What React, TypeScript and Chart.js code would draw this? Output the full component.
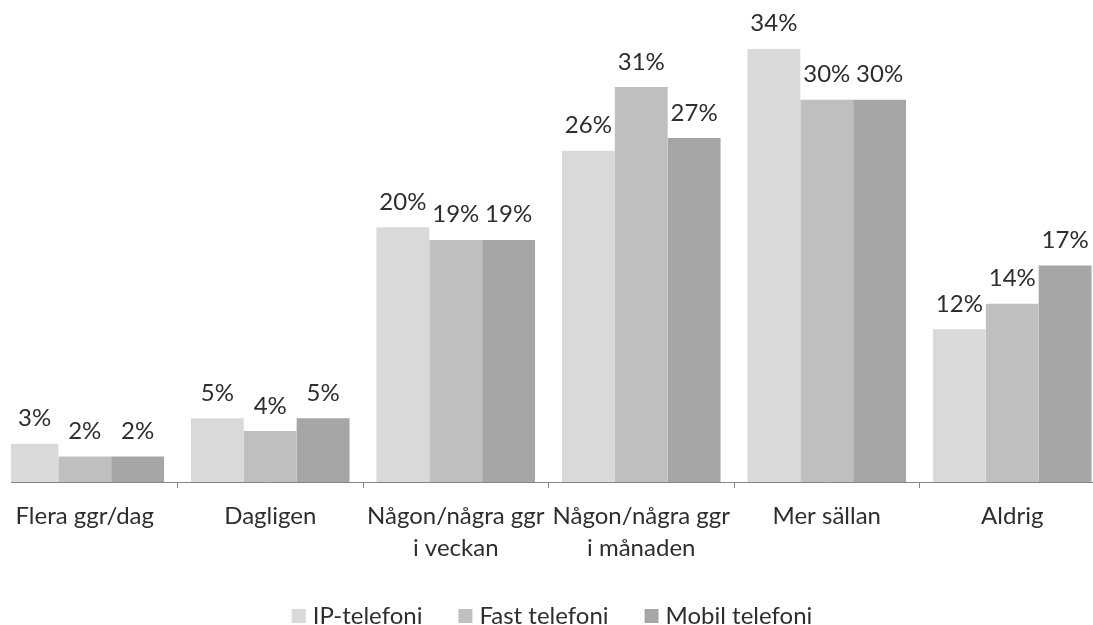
import React, { useEffect, useRef } from "react";
import { Chart, registerables } from "chart.js";

Chart.register(...registerables);

const categories: (string | string[])[] = [
  "Flera ggr/dag",
  "Dagligen",
  ["Någon/några ggr", "i veckan"],
  ["Någon/några ggr", "i månaden"],
  "Mer sällan",
  "Aldrig",
];
const seriesNames = ["IP-telefoni", "Fast telefoni", "Mobil telefoni"];
const ipValues = [3, 5, 20, 26, 34, 12];
const fastValues = [2, 4, 19, 31, 30, 14];
const mobilValues = [2, 5, 19, 27, 30, 17];
const seriesColors = ["#d9d9d9", "#bfbfbf", "#a6a6a6"];

const FONT = "Lato, 'DejaVu Sans', sans-serif";
const TEXT = "#2e2e2e";
const LEFT_CUT = 19; // canvas px hidden on the left (plot starts cropped)

const labelsPlugin = {
  id: "valueLabels",
  afterDatasetsDraw(chart: any) {
    const ctx = chart.ctx;
    ctx.save();
    ctx.font = `24px ${FONT}`;
    ctx.fillStyle = TEXT;
    ctx.textAlign = "center";
    ctx.textBaseline = "alphabetic";
    chart.data.datasets.forEach((ds: any, di: number) => {
      const meta = chart.getDatasetMeta(di);
      meta.data.forEach((bar: any, i: number) => {
        const half = bar.width / 2;
        const l = Math.max(bar.x - half, LEFT_CUT);
        const r = bar.x + half;
        ctx.fillText(`${Math.round(ds.data[i])}%`, (l + r) / 2, bar.y - 17.5);
      });
    });
    ctx.restore();
  },
};

const cropPlugin = {
  id: "cropLeft",
  afterDraw(chart: any) {
    const ctx = chart.ctx;
    const a = chart.chartArea;
    ctx.save();
    ctx.fillStyle = "#ffffff";
    ctx.fillRect(0, a.bottom - 3, LEFT_CUT, 14);
    ctx.restore();
  },
};

const legendPlugin = {
  id: "customLegend",
  afterDraw(chart: any) {
    const ctx = chart.ctx;
    ctx.save();
    ctx.font = `24px ${FONT}`;
    const box = 14;
    const gap = 7;
    const itemGap = 36;
    const widths = seriesNames.map((n) => ctx.measureText(n).width);
    const total =
      widths.reduce((a, b) => a + b, 0) + seriesNames.length * (box + gap) + itemGap * (seriesNames.length - 1);
    let x = chart.width / 2 + 3.5 - total / 2;
    const baseline = 624;
    seriesNames.forEach((n, i) => {
      ctx.fillStyle = seriesColors[i];
      ctx.fillRect(x, baseline - 15, box, box);
      x += box + gap;
      ctx.fillStyle = TEXT;
      ctx.textAlign = "left";
      ctx.textBaseline = "alphabetic";
      ctx.fillText(n, x, baseline);
      x += widths[i] + itemGap;
    });
    ctx.restore();
  },
};

export default function App() {
  const ref = useRef<HTMLCanvasElement | null>(null);
  useEffect(() => {
    if (!ref.current) return;
    const values = [ipValues, fastValues, mobilValues];
    const chart = new Chart(ref.current, {
      type: "bar",
      data: {
        labels: categories as any,
        datasets: seriesNames.map((name, i) => ({
          label: name,
          data: values[i],
          backgroundColor: seriesColors[i],
          borderWidth: 0,
          categoryPercentage: 0.855,
          barPercentage: 1,
          clip: { left: -LEFT_CUT, right: 0, top: 30, bottom: 0 },
        })),
      },
      options: {
        animation: false,
        responsive: false,
        devicePixelRatio: 1,
        layout: { padding: { top: 23.4, left: 0, right: 0, bottom: 0 } },
        plugins: {
          legend: { display: false },
          tooltip: { enabled: false },
        },
        scales: {
          x: {
            grid: {
              display: true,
              drawOnChartArea: false,
              drawTicks: true,
              tickLength: 6,
              color: "#868686",
              offset: true,
            },
            border: { display: true, color: "#868686", width: 1 },
            ticks: {
              color: TEXT,
              font: { family: FONT, size: 24, lineHeight: 1.3 },
              padding: 13,
              maxRotation: 0,
              autoSkip: false,
            },
            afterFit: (scale: any) => {
              scale.height = 625 - 482;
            },
          },
          y: {
            display: false,
            min: 0,
            max: 36,
          },
        },
      },
      plugins: [labelsPlugin, cropPlugin, legendPlugin],
    });
    return () => chart.destroy();
  }, []);

  return (
    <div
      style={{
        position: "absolute",
        left: 0,
        top: 0,
        width: 1093,
        height: 625,
        overflow: "hidden",
        background: "#fff",
      }}
    >
      <canvas
        ref={ref}
        width={1113}
        height={625}
        style={{ position: "absolute", left: -8, top: 0, width: 1113, height: 625 }}
      />
    </div>
  );
}
